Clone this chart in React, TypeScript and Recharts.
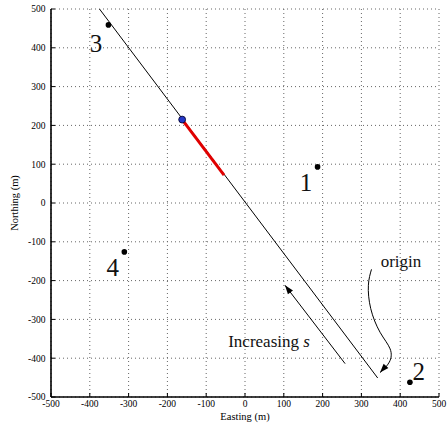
import React from "react";
import { ScatterChart, Scatter, XAxis, YAxis, CartesianGrid, Curve } from "recharts";

// axis ticks (both axes share the same range)
const axisTicks = [-500, -400, -300, -200, -100, 0, 100, 200, 300, 400, 500];

// trajectory line and the highlighted segment on it
const trackLine = [
  { x: -375, y: 500 },
  { x: 342, y: -451 },
];
const redSegment = [
  { x: -162, y: 215 },
  { x: -54, y: 72 },
];
const startPoint = [{ x: -162, y: 215 }];

// beacon positions and their numbers
const beacons = [
  { x: 187, y: 93 },
  { x: 425, y: -462 },
  { x: -352, y: 459 },
  { x: -311, y: -126 },
];
const beaconLabels = [
  { x: 157, y: 31, text: "1" },
  { x: 448, y: -455, text: "2" },
  { x: -384, y: 390, text: "3" },
  { x: -341, y: -188, text: "4" },
];

// annotations
const originCurve = [
  { x: 326, y: -171 },
  { x: 318, y: -212 },
  { x: 324, y: -272 },
  { x: 348, y: -333 },
  { x: 374, y: -376 },
  { x: 372, y: -410 },
  { x: 348, y: -437 },
];
const increasingArrow = [
  { x: 258, y: -414 },
  { x: 103, y: -212 },
];
const annotationText = [
  { x: 402, y: -166, text: "origin", math: "" },
  { x: 62, y: -370, text: "Increasing ", math: "s" },
];

const SERIF = "'Liberation Serif', 'Times New Roman', serif";

const Hidden = () => <g />;

function ArrowLine(props: any) {
  const { points, curve = "linear", stroke = "#000" } = props;
  if (!points || points.length < 2) return null;
  const end = points[points.length - 1];
  const prev = points[points.length - 2];
  const ang = Math.atan2(end.y - prev.y, end.x - prev.x);
  const len = 9;
  const half = 3.2;
  const bx = end.x - len * Math.cos(ang);
  const by = end.y - len * Math.sin(ang);
  const p1 = `${bx - half * Math.sin(ang)},${by + half * Math.cos(ang)}`;
  const p2 = `${bx + half * Math.sin(ang)},${by - half * Math.cos(ang)}`;
  return (
    <g>
      <Curve type={curve} points={points} stroke={stroke} strokeWidth={1} fill="none" />
      <polygon points={`${end.x},${end.y} ${p1} ${p2}`} fill={stroke} />
    </g>
  );
}

export default function App() {
  return (
    <div style={{ position: "absolute", left: 0, top: 0 }}>
      <ScatterChart width={447} height={426} margin={{ top: 9, right: 8, bottom: 0, left: 0 }}>
        <CartesianGrid stroke="#666" strokeDasharray="1 3" />
        <XAxis
          type="number"
          dataKey="x"
          domain={[-500, 500]}
          ticks={axisTicks}
          interval={0}
          allowDataOverflow
          height={29}
          axisLine={{ stroke: "#000", strokeWidth: 1.6 }}
          tickLine={{ stroke: "#000" }}
          tickSize={-4}
          tickMargin={7}
          tick={{ fill: "#000", fontSize: 9.5, fontFamily: SERIF }}
          label={{
            value: "Easting (m)",
            position: "insideBottom",
            offset: 6,
            fill: "#000",
            fontSize: 10.5,
            fontFamily: SERIF,
          }}
        />
        <XAxis
          xAxisId="top"
          orientation="top"
          type="number"
          dataKey="x"
          domain={[-500, 500]}
          ticks={axisTicks}
          interval={0}
          allowDataOverflow
          height={0}
          axisLine={{ stroke: "#000", strokeWidth: 1.6 }}
          tickLine={{ stroke: "#000" }}
          tickSize={-4}
          tick={false}
        />
        <YAxis
          type="number"
          dataKey="y"
          domain={[-500, 500]}
          ticks={axisTicks}
          interval={0}
          allowDataOverflow
          width={51}
          axisLine={{ stroke: "#000", strokeWidth: 1.6 }}
          tickLine={{ stroke: "#000" }}
          tickSize={-4}
          tickMargin={9.5}
          tick={{ fill: "#000", fontSize: 9.5, fontFamily: SERIF }}
          label={{
            value: "Northing (m)",
            angle: -90,
            position: "insideLeft",
            offset: 14,
            textAnchor: "middle",
            fill: "#000",
            fontSize: 10.5,
            fontFamily: SERIF,
          }}
        />
        <YAxis
          yAxisId="right"
          orientation="right"
          type="number"
          dataKey="y"
          domain={[-500, 500]}
          ticks={axisTicks}
          interval={0}
          allowDataOverflow
          width={0}
          axisLine={{ stroke: "#000", strokeWidth: 1.6 }}
          tickLine={{ stroke: "#000" }}
          tickSize={-4}
          tick={false}
        />

        <Scatter
          data={trackLine}
          fill="#000"
          line={{ stroke: "#000", strokeWidth: 1 }}
          shape={Hidden}
          isAnimationActive={false}
        />
        <Scatter
          data={redSegment}
          fill="#e00000"
          line={{ stroke: "#e00000", strokeWidth: 3 }}
          shape={Hidden}
          isAnimationActive={false}
        />
        <Scatter
          data={startPoint}
          fill="#2438c8"
          shape={(p: any) => (
            <circle cx={p.cx} cy={p.cy} r={3.4} fill="#2438c8" stroke="#0a0a40" strokeWidth={1} />
          )}
          isAnimationActive={false}
        />
        <Scatter
          data={beacons}
          fill="#000"
          shape={(p: any) => <circle cx={p.cx} cy={p.cy} r={2.8} fill="#000" />}
          isAnimationActive={false}
        />
        <Scatter
          data={beaconLabels}
          fill="#000"
          shape={(p: any) => (
            <text x={p.cx} y={p.cy} textAnchor="middle" fontSize={25} fontFamily={SERIF} fill="#111">
              {p.payload.text}
            </text>
          )}
          isAnimationActive={false}
        />
        <Scatter
          data={originCurve}
          fill="#000"
          line={<ArrowLine curve="natural" />}
          shape={Hidden}
          isAnimationActive={false}
        />
        <Scatter
          data={increasingArrow}
          fill="#000"
          line={<ArrowLine curve="linear" />}
          shape={Hidden}
          isAnimationActive={false}
        />
        <Scatter
          data={annotationText}
          fill="#000"
          shape={(p: any) => (
            <text x={p.cx} y={p.cy} textAnchor="middle" fontSize={17} fontFamily={SERIF} fill="#111">
              {p.payload.text}
              {p.payload.math ? <tspan fontStyle="italic">{p.payload.math}</tspan> : null}
            </text>
          )}
          isAnimationActive={false}
        />
      </ScatterChart>
    </div>
  );
}
